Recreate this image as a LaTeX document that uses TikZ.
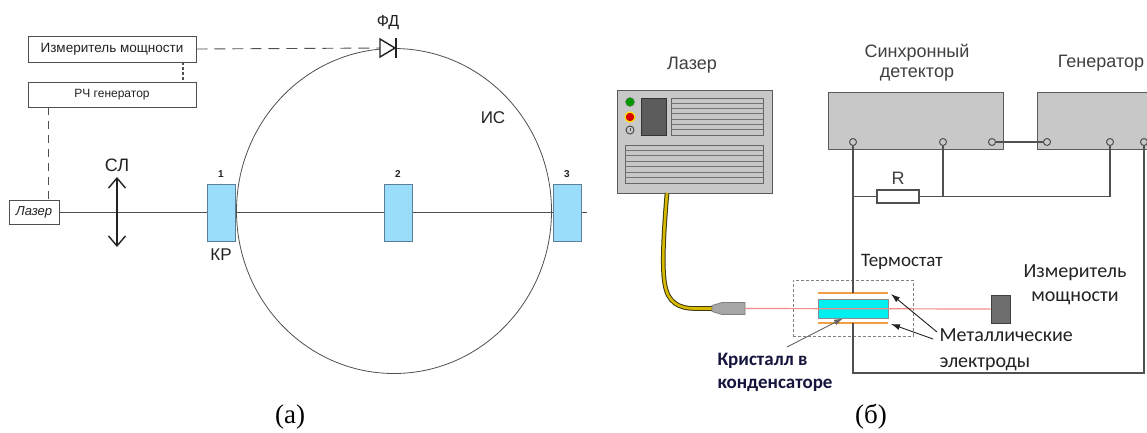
\documentclass[tikz,border=0pt]{standalone}
\usepackage{fontspec}
\setmainfont{Liberation Serif}
\setsansfont{Liberation Sans}
\newfontfamily\calfont{Carlito}
\usetikzlibrary{arrows.meta,calc}
\pgfdeclarelayer{bg}
\pgfsetlayers{bg,main}

\definecolor{wirec}{HTML}{505050}
\definecolor{devgray}{HTML}{C8C8C8}
\definecolor{devedge}{HTML}{5A5A5A}
\definecolor{cellblue}{HTML}{99DDFA}
\definecolor{celledge}{HTML}{5B7F99}
\definecolor{labelgray}{HTML}{404040}
\definecolor{cablec}{HTML}{D9B800}
\definecolor{cabledark}{HTML}{3A3A10}
\definecolor{beamc}{HTML}{F28C8C}
\definecolor{electrodec}{HTML}{F0A040}
\definecolor{crystalc}{HTML}{00F0F0}
\definecolor{navyc}{HTML}{14143C}
\definecolor{inkc}{HTML}{222222}

\begin{document}
\begin{tikzpicture}[x=1pt,y=-1pt,
  fs/.style={font=\sffamily\fontsize{#1}{#1}\selectfont},
  lbox/.style={draw=wirec, line width=0.8pt, fill=white, inner sep=0, text=inkc},
  cell/.style={draw=celledge, fill=cellblue, line width=0.8pt, minimum width=28pt, minimum height=57pt, inner sep=0},
  num/.style={font=\sffamily\bfseries\fontsize{10}{10}\selectfont, text=inkc},
  thinline/.style={draw=wirec, line width=0.8pt},
  dashline/.style={draw=wirec, line width=0.9pt, dash pattern=on 11pt off 7pt},
  dotline/.style={draw=wirec, line width=1.2pt, dash pattern=on 3pt off 2pt},
  lens/.style={draw=inkc, line width=1.4pt, arrows={Straight Barb[length=10pt,width=17pt]-Straight Barb[length=10pt,width=17pt]}},
  dev/.style={draw=devedge, fill=devgray, line width=1pt, inner sep=0},
  term/.style={circle, draw=wirec, fill=devgray, line width=1pt, minimum size=7pt, inner sep=0},
  wire/.style={draw=wirec, line width=1.2pt},
  electrode/.style={draw=electrodec, line width=2pt},
  ptr/.style={draw=inkc, line width=0.9pt, -{Latex[length=9pt,width=6pt]}},
  beam/.style={draw=beamc, line width=1.2pt}]

\useasboundingbox (0,0) rectangle (1147,432);
\begin{pgfonlayer}{bg}
  \fill[white] (0,0) rectangle (1147,432);
\end{pgfonlayer}

% ---------------- (a) integrating sphere set-up ----------------
\node[lbox, fs=13.5, minimum width=168pt, minimum height=26pt] (pm) at (112,49) {Измеритель мощности};
\node[lbox, fs=12, minimum width=168pt, minimum height=25pt] (rf) at (112,94.5) {РЧ генератор};
\node[lbox, fs=13, minimum width=50pt, minimum height=24pt] (las) at (34,212) {\itshape Лазер};

\node[cell] (c1) at (221,212.5) {};
\node[cell] (c2) at (398,212.5) {};
\node[cell] (c3) at (567,212.5) {};
\coordinate (bend) at (587,212);
\coordinate (fd) at (380,48);
\coordinate (pmtap) at (183,62);
\coordinate (rftap) at (48,107);

\begin{pgfonlayer}{bg}
  \draw[thinline] (las.east) -- (bend);
  \draw[thinline] (394,211) ellipse [x radius=157.5pt, y radius=162.5pt];
\end{pgfonlayer}

\draw[dashline] (pm.east) -- (fd);
\draw[dotline] (pmtap) -- (pmtap |- rf.north);
\draw[dashline, dash pattern=on 8pt off 6pt] (rftap) -- (rftap |- las.north);

% photodiode
\draw[draw=inkc, line width=1.4pt, fill=white, line join=miter] (fd) ++(0,-9) -- ++(15,9) -- ++(-15,9) -- cycle;
\draw[draw=inkc, line width=1.6pt] (396,38) -- (396,58);

% collecting lens
\draw[lens] (117,177) -- (117,247);

\node[fs=18, text=inkc] at (117,165) {СЛ};
\node[fs=17, text=inkc] at (221,255) {КР};
\node[fs=16, text=inkc] at (388,23) {ФД};
\node[fs=17, text=inkc] at (493,118) {ИС};
\node[num] at (221,174) {1};
\node[num] at (398,174) {2};
\node[num] at (567,174) {3};

% ---------------- (b) electro-optic set-up ----------------
\node[dev, minimum width=155pt, minimum height=103pt] (ldev) at (694.5,141.5) {};
\fill[draw=black!80, fill=black!64] (641,98) rectangle (666,135);
\draw[draw=black!60, fill=black!22] (671,98) rectangle (763,135);
\foreach \k in {1,...,6} {\draw[black!55, line width=0.8pt] (671,{98+\k*37/7}) -- (763,{98+\k*37/7});}
\draw[draw=black!60, fill=black!22] (625,145) rectangle (763,183);
\foreach \k in {1,...,6} {\draw[black!55, line width=0.8pt] (625,{145+\k*38/7}) -- (763,{145+\k*38/7});}
\fill[draw=black!55, fill=green!60!black] (630,102) circle [radius=4.5pt];
\fill[draw=yellow!85!orange, line width=1.2pt, fill=red!85!black] (630,117) circle [radius=5pt];
\draw[draw=black!70, line width=1pt, fill=devgray] (630,130) circle [radius=4pt];
\draw[black!70, line width=1pt] (630,127.5) -- (630,131);

% fibre and plug
\coordinate (cab0) at (667,193);
\coordinate (plugin) at (712,308.5);
\coordinate (plugout) at (745,308.5);
\draw[cabledark, line width=4.6pt] (cab0) .. controls (663,240) and (662,270) .. (665,285) .. controls (668,302) and (678,308.5) .. (695,308.5) -- (plugin);
\draw[cablec, line width=2.6pt] (cab0) .. controls (663,240) and (662,270) .. (665,285) .. controls (668,302) and (678,308.5) .. (695,308.5) -- (plugin);
\fill[draw=black!50, fill=black!35, line width=0.8pt] (712,305.5) -- (722,302.5) -- (745,302.5) -- (745,314.5) -- (722,314.5) -- (712,311.5) -- cycle;

% thermostat, crystal, electrodes, power meter
\node[draw=black!50, line width=0.8pt, dash pattern=on 3pt off 2pt, minimum width=120pt, minimum height=56pt, inner sep=0] (thermo) at (853,308) {};
\node[draw=black!45, fill=crystalc, line width=0.6pt, minimum width=70pt, minimum height=19pt, inner sep=0] (xtal) at (853,308.5) {};
\coordinate (etL) at (818,293);
\coordinate (etR) at (888,293);
\coordinate (ebL) at (818,323);
\coordinate (ebR) at (888,323);
\coordinate (etM) at (853,293);
\coordinate (ebM) at (853,323);
\draw[electrode] (etL) -- (etR);
\draw[electrode] (ebL) -- (ebR);
\node[draw=black!75, fill=black!57, line width=0.8pt, minimum width=19pt, minimum height=28pt, inner sep=0] (meter) at (1000.5,309) {};
\draw[beam] (plugout) -- (meter.west);

% lock-in amplifier and generator
\node[dev, minimum width=175pt, minimum height=57pt] (sync) at (915.5,120.5) {};
\node[dev, minimum width=123pt, minimum height=57pt] (gen) at (1098.5,120.5) {};
\node[term] (s1) at (853,142) {};
\node[term] (s2) at (943,142) {};
\node[term] (s3) at (992,142) {};
\node[term] (g1) at (1047,142) {};
\node[term] (g2) at (1110,142) {};
\node[term] (g3) at (1144,142) {};
\node[draw=wirec, fill=white, line width=1.2pt, minimum width=42pt, minimum height=13pt, inner sep=0] (res) at (898,196.5) {};
\coordinate (bl) at (853,373);
\coordinate (br) at (1144,373);

\draw[wire] (s3) -- (g1);
\draw[wire] (s1) -- (etM);
\draw[wire] (ebM) -- (bl) -- (br) -- (g3);
\draw[wire] (res.west) -- (res.west -| s1);
\draw[wire] (res.east) -- (res.east -| g2) -- (g2);
\draw[wire] (s2) -- (s2 |- res.east);

% labels
\node[fs=18, text=labelgray] at (692,65) {Лазер};
\node[font=\sffamily\fontsize{18}{20}\selectfont, text=labelgray, align=center] at (917,63) {Синхронный\\детектор};
\node[fs=18, text=labelgray] at (1101,63) {Генератор};
\node[fs=18, text=labelgray] at (898,178) {R};
\node[font=\calfont\fontsize{19}{19}\selectfont, text=inkc] at (902,262) {Термостат};
\node[font=\calfont\fontsize{20}{24}\selectfont, text=inkc, align=center] at (1075,285) {Измеритель\\мощности};
\node[font=\calfont\fontsize{20}{26}\selectfont, text=inkc, align=left, anchor=west] (metal) at (936,350) {Металлические\\электроды};
\node[font=\calfont\bfseries\fontsize{19}{23}\selectfont, text=navyc, align=left, anchor=west] (kris) at (714,372.5) {Кристалл в\\конденсаторе};

\coordinate (mA) at (937,332);
\coordinate (mB) at (933,339);
\coordinate (tA) at (891,294);
\coordinate (tB) at (891,324);
\coordinate (kA) at (787,347);
\draw[ptr] (mA) -- (tA);
\draw[ptr] (mB) -- (tB);
\draw[ptr, draw=black!60] (kA) -- ($(xtal.south)+(-10,0)$);

\node[font=\rmfamily\fontsize{27}{27}\selectfont, text=black] at (290,417) {(а)};
\node[font=\rmfamily\fontsize{27}{27}\selectfont, text=black] at (871,417) {(б)};
\end{tikzpicture}
\end{document}
